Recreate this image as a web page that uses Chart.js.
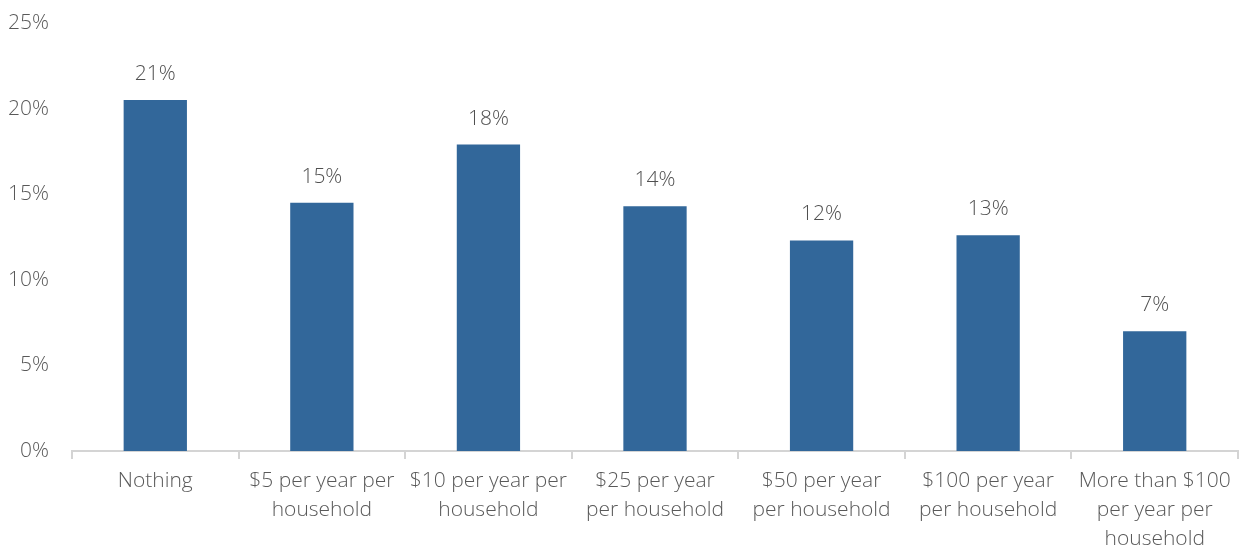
<!DOCTYPE html>
<html>
<head>
<meta charset="utf-8">
<script src="https://cdn.jsdelivr.net/npm/chart.js@4/dist/chart.umd.min.js"></script>
<style>
  html, body { margin: 0; padding: 0; background: #ffffff; }
  #wrap { width: 1239px; height: 548px; position: relative; }
</style>
</head>
<body>
<div id="wrap"><canvas id="chart"></canvas></div>
<script>
// Share of respondents by amount they would pay
const categories = [
  'Nothing',
  ['$5 per year per', 'household'],
  ['$10 per year per', 'household'],
  ['$25 per year', 'per household'],
  ['$50 per year', 'per household'],
  ['$100 per year', 'per household'],
  ['More than $100', 'per year per', 'household']
];
const shares = [20.5, 14.5, 17.9, 14.3, 12.3, 12.6, 7.0];
const yTicks = [0, 5, 10, 15, 20, 25];

const FONT = "'Open Sans', 'Lato', sans-serif";
const TEXT = '#595959';

// Writes the rounded percentage above each bar
const barValueLabels = {
  id: 'barValueLabels',
  afterDatasetsDraw(chart) {
    const ctx = chart.ctx;
    const meta = chart.getDatasetMeta(0);
    ctx.save();
    ctx.font = `300 21px ${FONT}`;
    ctx.fillStyle = '#505050';
    ctx.textAlign = 'center';
    ctx.textBaseline = 'middle';
    meta.data.forEach((bar, i) => {
      const v = chart.data.datasets[0].data[i];
      ctx.fillText(Math.round(v) + '%', bar.x, bar.y - 26);
    });
    ctx.restore();
  }
};

new Chart(document.getElementById('chart'), {
  type: 'bar',
  data: {
    labels: categories,
    datasets: [{
      data: shares,
      backgroundColor: '#32679a',
      borderWidth: 0,
      barPercentage: 0.38,
      categoryPercentage: 1.0
    }]
  },
  options: {
    responsive: true,
    maintainAspectRatio: false,
    animation: false,
    layout: { padding: { top: 23, right: 1, left: 0, bottom: 0 } },
    plugins: {
      legend: { display: false },
      tooltip: { enabled: false }
    },
    scales: {
      x: {
        offset: true,
        grid: {
          display: true,
          drawOnChartArea: false,
          drawTicks: true,
          tickLength: 8,
          color: '#d4d4d4',
          lineWidth: 2,
          offset: true
        },
        border: { display: true, color: '#d4d4d4', width: 2 },
        ticks: {
          color: TEXT,
          font: { family: FONT, size: 21, weight: 300, lineHeight: 1.38 },
          padding: 8,
          maxRotation: 0,
          autoSkip: false
        },
        afterFit(scale) {
          scale.height = 97;
          scale.paddingTop = 0;
          scale.paddingBottom = 0;
        }
      },
      y: {
        min: 0,
        max: 25,
        afterBuildTicks(scale) { scale.ticks = yTicks.map(v => ({ value: v })); },
        grid: { display: false },
        border: { display: false },
        ticks: {
          color: TEXT,
          font: { family: FONT, size: 21, weight: 300 },
          padding: 15,
          callback: v => v + '%'
        },
        afterFit(scale) {
          scale.width = 72;
          scale.paddingTop = 0;
          scale.paddingBottom = 0;
        }
      }
    }
  },
  plugins: [barValueLabels]
});
</script>
</body>
</html>
